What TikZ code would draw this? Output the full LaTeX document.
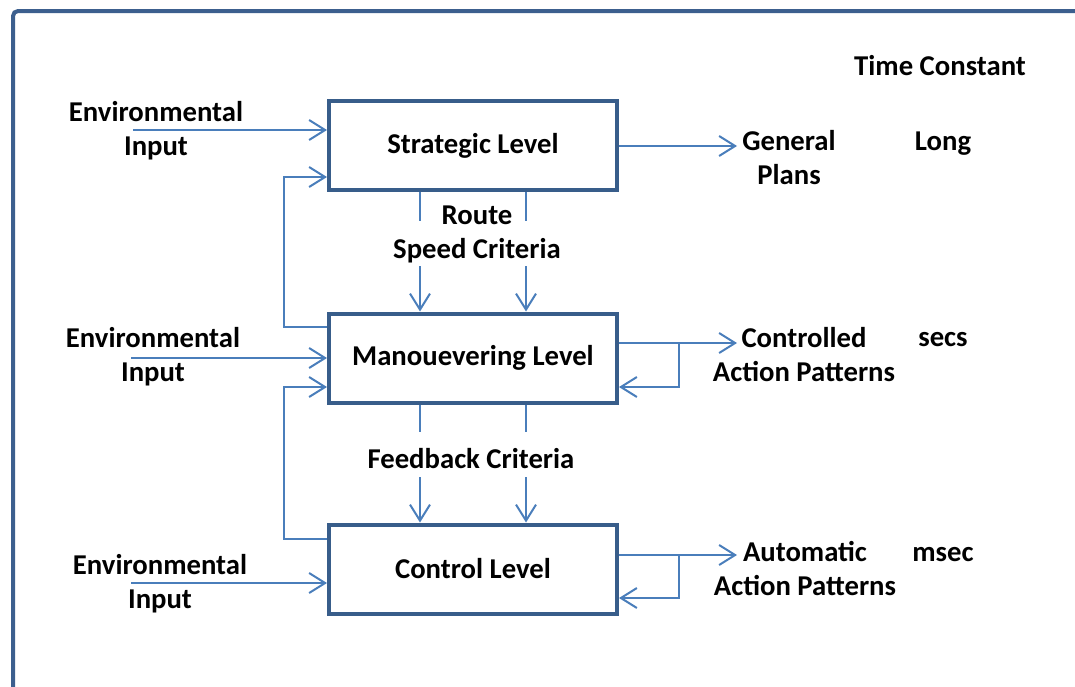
\documentclass[tikz,border=0pt]{standalone}
\usepackage{fontspec}
\setmainfont{Carlito}
\usetikzlibrary{arrows.meta}
\definecolor{frameblue}{HTML}{3C5F8E}
\definecolor{boxblue}{HTML}{385D8A}
\definecolor{linkblue}{HTML}{4A7EBB}

\begin{document}
\begin{tikzpicture}[x=1pt,y=-1pt,
    lbl/.style={font=\fontsize{28.7}{34}\selectfont\bfseries, align=center, anchor=base, inner sep=0pt},
    level/.style={draw=boxblue, line width=4pt, minimum width=288pt, minimum height=89pt, inner sep=0pt,
        font=\fontsize{28.7}{34}\selectfont\bfseries},
    wire/.style={draw=linkblue, line width=2pt},
    link/.style={wire, -{Straight Barb[length=16pt,width=20pt]}}]
        \useasboundingbox (0,0) rectangle (1075,686);
        \clip (0,0) rectangle (1075,686);
        \draw[frameblue, line width=4pt, rounded corners=5pt] (13,11) rectangle (1110,720);

        \node[level] (strat) at (473,145.5) {Strategic Level};
        \node[level] (man) at (473,358) {Manouevering Level};
        \node[level] (ctrl) at (473,569) {Control Level};

        \node[lbl] (env1) at (156,155) {Environmental\\Input};
        \node[lbl] (env2) at (153,381) {Environmental\\Input};
        \node[lbl] (env3) at (160,608) {Environmental\\Input};
        \node[lbl] (route) at (477,258) {Route\\Speed Criteria};
        \node[lbl] (fbcrit) at (471,468) {Feedback Criteria};
        \node[lbl] (tconst) at (940,75) {Time Constant};
        \node[lbl] (plans) at (789,184) {General\\Plans};
        \node[lbl] (long) at (943,150) {Long};
        \node[lbl] (cap) at (804,381) {Controlled\\Action Patterns};
        \node[lbl] (secs) at (943,346) {secs};
        \node[lbl] (aap) at (805,595) {Automatic\\Action Patterns};
        \node[lbl] (msec) at (943,561) {msec};

        \coordinate (in1) at (133,130);
        \coordinate (in2) at (131,358);
        \coordinate (in3) at (131,583);
        \coordinate (out1) at (737,146);
        \coordinate (out2) at (737,343);
        \coordinate (out3) at (737,555);

        \draw[link] (in1) -- (strat.west |- in1);
        \draw[link] (in2) -- (man.west |- in2);
        \draw[link] (in3) -- (ctrl.west |- in3);

        \draw[link] (man.west |- 0,327) -- (284,327) -- (284,177) -- (strat.west |- 0,177);
        \draw[link] (ctrl.west |- 0,539) -- (284,539) -- (284,387) -- (man.west |- 0,387);

        \draw[wire] (strat.south -| 420,0) -- (420,221);
        \draw[wire] (strat.south -| 526,0) -- (526,221);
        \draw[link] (420,266) -- (man.north -| 420,0);
        \draw[link] (526,266) -- (man.north -| 526,0);
        \draw[wire] (man.south -| 420,0) -- (420,432);
        \draw[wire] (man.south -| 526,0) -- (526,432);
        \draw[link] (420,477) -- (ctrl.north -| 420,0);
        \draw[link] (526,477) -- (ctrl.north -| 526,0);

        \draw[link] (strat.east |- out1) -- (out1);
        \draw[link] (man.east |- out2) -- (out2);
        \draw[link] (679,343) -- (679,387) -- (man.east |- 0,387);
        \draw[link] (ctrl.east |- out3) -- (out3);
        \draw[link] (679,555) -- (679,598) -- (ctrl.east |- 0,598);
\end{tikzpicture}
\end{document}
